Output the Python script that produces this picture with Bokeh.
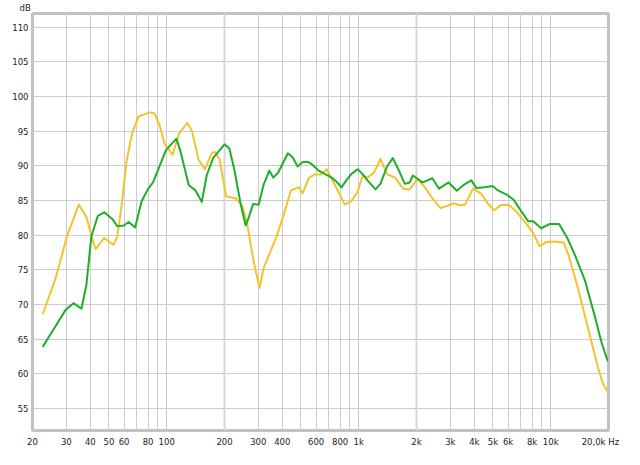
from bokeh.plotting import figure
from bokeh.models import Range1d, FixedTicker, Span
from bokeh.embed import file_html
from bokeh.resources import INLINE

# frequency response (Hz / dB)
yellow_hz = [22.6, 26.4, 30.2, 34.9, 38.2, 40.2, 42.6, 47.3, 52.8, 55.3, 58.6, 61.6, 65.9, 71.3,
             81.6, 86.5, 91.7, 97.3, 107.3, 115.9, 127.8, 135.5, 146.4, 158.3, 171.2, 177.9, 188.7,
             204, 229.4, 247.7, 262.6, 284, 304.6, 319.2, 345.3, 372.9, 403.4, 444.4, 490.2, 509.4,
             551, 595.2, 631, 682.4, 723.4, 782.4, 845.2, 914, 988.4, 1048, 1111, 1200, 1298, 1404,
             1547, 1704, 1843, 2030, 2240, 2420, 2670, 2884, 3118, 3372, 3576, 3940, 4340, 4694,
             5078, 5484, 6050, 6666, 7494, 8104, 8754, 9466, 10640, 11720, 12430, 13980, 15700,
             17650, 18710, 19840]
yellow_db = [68.6, 73.8, 79.8, 84.4, 82.6, 80.3, 78.0, 79.6, 78.6, 79.8, 84.9, 90.4, 94.6, 97.1,
             97.7, 97.55, 95.9, 93.2, 91.6, 94.6, 96.2, 95.0, 90.9, 89.5, 91.8, 92.0, 90.9,
             85.6, 85.3, 84.2, 81.6, 76.1, 72.4, 75.2, 77.5, 79.8, 82.6, 86.5, 86.9, 86.0,
             88.3, 88.8, 88.7, 89.5, 88.1, 86.3, 84.4, 84.9, 86.3, 88.6, 88.3, 89.0, 91.0, 88.8,
             88.3, 86.7, 86.6, 88.1, 86.7, 85.3, 83.9, 84.2, 84.6, 84.3, 84.4, 86.7, 86.0, 84.6,
             83.6, 84.3, 84.4, 83.3, 81.6, 80.3, 78.4, 79.0, 79.1, 78.9, 77.0, 72.0, 66.4,
             60.9, 58.6, 57.4]

green_hz = [22.6, 26.4, 29.7, 32.7, 36.0, 38.2, 40.5, 43.8, 47.3, 52.2, 55.3, 59.8, 63.4, 68.5,
            74.0, 80.1, 84.9, 91.7, 99.2, 107.3, 112.4, 118.2, 130.3, 140.8, 152.3, 161.5, 174.4,
            200, 212, 224.8, 243.2, 257.8, 268, 281.7, 301.2, 319.2, 342.4, 358.8, 380.4, 403.4,
            427.6, 453.4, 480.6, 509.4, 540.2, 572.6, 619.2, 669, 723.4, 767, 813, 862, 914, 988.4,
            1048, 1111, 1224, 1298, 1404, 1506, 1608, 1739, 1843, 1915, 2154, 2420, 2618, 2942,
            3242, 3506, 3862, 4096, 4516, 4978, 5278, 5932, 6414, 6928, 7644, 8104, 8926, 9838,
            11060, 12200, 13440, 15110, 16980, 18370, 19840]
green_db = [63.9, 66.9, 69.2, 70.2, 69.4, 72.9, 79.8, 82.8, 83.3, 82.3, 81.3, 81.4, 81.9, 81.1,
            84.9, 86.7, 87.6, 89.9, 92.3, 93.3, 93.9, 92.0, 87.2, 86.5, 84.8, 88.6, 91.1,
            93.1, 92.5, 89.5, 84.4, 81.4, 82.6, 84.5, 84.4, 87.2, 89.3, 88.3, 89.0, 90.4,
            91.8, 91.2, 89.9, 90.5, 90.6, 90.2, 89.3, 88.8, 88.3, 87.7, 86.9, 87.9, 88.8, 89.5,
            88.8, 87.9, 86.6, 87.4, 89.9, 91.1, 89.5, 87.4, 87.6, 88.6, 87.6, 88.2, 86.7, 87.6,
            86.4, 87.2, 87.9, 86.8, 86.9, 87.1, 86.5, 85.8, 85.1, 83.7, 82.0, 82.0, 81.0, 81.6,
            81.6, 79.6, 77.0, 73.4, 68.3, 64.6, 61.8]

# trailing no-break spaces pull the centred last label a little to the left
x_labels = {20: "20", 30: "30", 40: "40", 50: "50", 60: "60", 80: "80", 100: "100",
            200: "200", 300: "300", 400: "400", 600: "600", 800: "800", 1000: "1k",
            2000: "2k", 3000: "3k", 4000: "4k", 5000: "5k", 6000: "6k", 8000: "8k",
            10000: "10k", 20000: "20,0k Hz\u00a0\u00a0"}
grid_hz = [m * d for d in (10, 100, 1000, 10000) for m in range(1, 10)
           if 20 <= m * d <= 20000] + [20000]
wide_grid_hz = [200, 2000]
db_ticks = [55, 60, 65, 70, 75, 80, 85, 90, 95, 100, 105, 110]

FONT = "DejaVu Sans"
TXT = "#222222"

p = figure(width=624, height=449, x_axis_type="log",
           x_range=Range1d(20, 20000), y_range=Range1d(51.85, 111.95),
           output_backend="svg", toolbar_location=None,
           min_border_left=32, min_border_right=16, min_border_top=11, min_border_bottom=19)

p.title.text = "dB"
p.title.align = "left"
p.title.offset = -13
p.title.standoff = 1
p.title.text_font = FONT
p.title.text_font_size = "8.5px"
p.title.text_font_style = "normal"
p.title.text_color = TXT

p.outline_line_color = "#c2c2c2"
p.outline_line_width = 3

p.xgrid.ticker = FixedTicker(ticks=grid_hz)
p.ygrid.ticker = FixedTicker(ticks=db_ticks)
p.grid.grid_line_color = "#cccccc"
p.grid.grid_line_width = 1
for hz in wide_grid_hz:
    p.add_layout(Span(location=hz, dimension="height", line_color="#d6d6d6",
                      line_width=2, level="underlay"))

p.xaxis.ticker = FixedTicker(ticks=list(x_labels.keys()))
p.xaxis.major_label_overrides = x_labels
p.yaxis.ticker = FixedTicker(ticks=db_ticks)
for ax in (p.xaxis, p.yaxis):
    ax.axis_line_color = None
    ax.major_tick_line_color = None
    ax.minor_tick_line_color = None
    ax.major_tick_out = 0
    ax.major_tick_in = 0
    ax.minor_tick_out = 0
    ax.minor_tick_in = 0
    ax.axis_label_standoff = 0
    ax.major_label_text_font = FONT
    ax.major_label_text_font_size = "8.5px"
    ax.major_label_text_color = TXT
p.xaxis.major_label_standoff = 6
p.yaxis.major_label_standoff = 4

p.line(yellow_hz, yellow_db, line_color="#f0c42c", line_width=2, line_join="round")
p.line(green_hz, green_db, line_color="#1eae28", line_width=2, line_join="round")

open("out.html", "w").write(file_html(p, INLINE))
